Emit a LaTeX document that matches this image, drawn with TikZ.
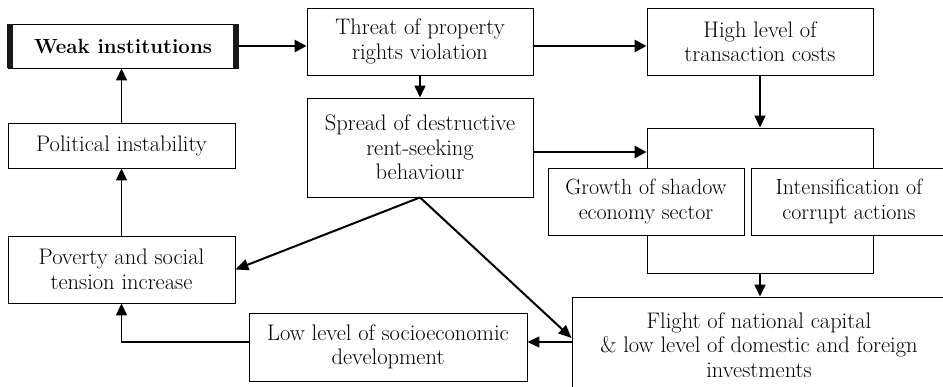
\documentclass[tikz,border=0pt]{standalone}
\usepackage{fontspec}
\setmainfont{Latin Modern Roman}
\usetikzlibrary{arrows.meta}
\begin{document}
\begin{tikzpicture}[x=1pt,y=-1pt,
 box/.style={draw=black, line width=0.9pt, fill=white, align=center, inner sep=0pt, font=\fontsize{22.5}{24.5}\selectfont},
 thinarrow/.style={line width=1.4pt, -{Triangle[length=12pt,width=11pt]}},
 thickarrow/.style={line width=2.8pt, -{Triangle[length=12pt,width=12pt]}},
 midarrow/.style={line width=2pt, -{Triangle[length=13pt,width=11pt]}},
 bar/.style={fill=black!90, draw=none}]
\useasboundingbox (0,0) rectangle (943,387);
\clip (0,0) rectangle (943,387);
\coordinate (mid) at (0,342);
% left column
\node[box, minimum width=230pt, minimum height=44pt, font=\fontsize{20.5}{24.5}\selectfont\bfseries] (weak) at (123,46) {Weak institutions};
\fill[bar] (weak.north west) ++(-1,0) rectangle ++(6,44);
\fill[bar] (weak.north east) ++(1,0) rectangle ++(-6,44);
\node[box, minimum width=227pt, minimum height=45pt] (pol) at (121.5,145.5) {Political instability};
\node[box, minimum width=227pt, minimum height=67pt] (pov) at (121.5,269.5) {Poverty and social\\tension increase};
\node[box, minimum width=278pt, minimum height=68pt] (low) at (388,347) {Low level of socioeconomic\\development};
% middle column
\node[box, minimum width=226pt, minimum height=67pt] (threat) at (420,41.5) {Threat of property\\rights violation};
\node[box, minimum width=226pt, minimum height=99pt] (spread) at (420,147.5) {Spread of destructive\\rent-seeking\\behaviour};
% right column
\node[box, minimum width=226pt, minimum height=67pt] (high) at (760,41.5) {High level of\\transaction costs};
\node[box, minimum width=226pt, minimum height=145pt] (big) at (760,200.5) {};
\node[box, minimum width=196pt, minimum height=67pt, font=\fontsize{22}{24.5}\selectfont] (growth) at (646,201.5) {Growth of shadow\\economy sector};
\node[box, minimum width=196pt, minimum height=67pt, font=\fontsize{22}{24.5}\selectfont] (intens) at (849,201.5) {Intensification of\\corrupt actions};
\node[box, minimum width=374pt, minimum height=96pt] (flight) at (759,345) {Flight of national capital\\\& low level of domestic and foreign\\investments};
% connectors
\draw[thickarrow] (weak.east) -- (weak.east -| threat.west);
\draw[thickarrow] (threat.east |- weak.east) -- (high.west |- weak.east);
\draw[thickarrow] (spread.east |- 0,152) -- (big.west |- 0,152);
\draw[thinarrow] (pol.north) -- (pol.north |- weak.south);
\draw[thinarrow] (pov.north) -- (pov.north |- pol.south);
\draw[thinarrow] (low.west |- mid) -| (pov.south);
\draw[thinarrow] (threat.south) -- (spread.north);
\draw[thinarrow] (high.south) -- (big.north);
\draw[thinarrow] (big.south) -- (big.south |- flight.north);
\draw[thinarrow] (flight.west |- mid) -- (low.east |- mid);
\draw[midarrow] (spread.south) -- (pov.east);
\draw[midarrow] (spread.south) -- (flight.west |- 0,338);
\end{tikzpicture}
\end{document}
